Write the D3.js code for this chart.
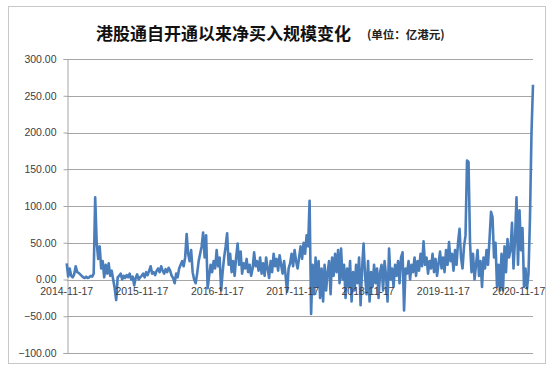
<!DOCTYPE html>
<html>
<head>
<meta charset="utf-8">
<script src="https://cdn.jsdelivr.net/npm/d3@7"></script>
<style>
  body { margin: 0; background: #fff; }
  text { font-family: "Liberation Sans", Arial, sans-serif; }
  .title { font-family: "Noto Sans CJK SC", sans-serif; }
</style>
</head>
<body>
<script>
// chart text
const titleMain = "港股通自开通以来净买入规模变化";
const titleUnit = "(单位：亿港元)";

// first and last trading day shown
const startDay = "2014-11-17";
const endDay = "2021-01-25";

// y axis ticks (亿港元)
const yTicks = [-100, -50, 0, 50, 100, 150, 200, 250, 300];

// x axis labels, one a year
const xLabels = ["2014-11-17", "2015-11-17", "2016-11-17", "2017-11-17",
                 "2018-11-17", "2019-11-17", "2020-11-17"];

// net buy, roughly one reading per week
const netBuy = [
  22, 4, 15, 5, 3, 7, 18, 10, 9, 7,
  5, 3, 2, 4, 2, 3, 5, 4, 8, 112,
  50, 28, 45, 15, 25, 3, 20, 8, 22, 5,
  12, 0, -12, -28, 3, 5, 8, 0, 5, 2,
  6, 3, 8, 0, 4, -8, 2, 7, 0, 3,
  5, 8, 3, 10, 6, 12, 18, 8, 10, 6,
  12, 15, 10, 18, 12, 8, 14, 10, 16, 12,
  5, 2, -5, 8, 3, 15, 20, 25, 18, 30,
  62, 35, 25, 40, 10, 0, -5, 8, 25, 35,
  45, 64, 30, 60, -12, 5, 20, 10, 25, 15,
  40, 18, 30, -15, 10, 30, 45, 63, 20, 35,
  10, 25, 5, 30, 49, 20, 38, 8, 22, 15,
  28, 10, 20, 5, 15, 37, 18, 25, 12, 30,
  8, 22, 5, 30, 15, 2, 25, 10, 35, 18,
  28, 12, 33, 20, 8, 25, 5, -17, 15, 22,
  35, 18, 40, 25, 15, 30, 45, 28, 50, 35,
  60, 45, 107, -47, 20, -20, 30, -10, 25, -25,
  15, -30, 20, -15, 10, 25, -20, 30, 5, 35,
  10, 40, -5, 42, 0, 20, -25, 15, -10, 25,
  -30, 10, -15, 20, -5, 30, -35, 15, 49, 5,
  -20, 25, -30, 10, -10, 20, -5, 15, -25, 10,
  20, -15, 25, 5, -30, 42, 0, 15, -10, 20,
  5, 25, -5, 30, 37, -42, 15, 8, 25, 0,
  20, 10, 30, 5, 25, 12, 35, 18, 52, 20,
  30, 8, 25, 15, 35, 10, 28, 5, 22, 38,
  15, 30, 10, 40, 20, 51, 25, 35, 12, 40,
  20, 50, 69, 30, 15, 45, 60, 162, 160, 50,
  10, 35, 0, 20, 40, 5, 25, -10, 30, 15,
  40, 20, 55, 92, 85, 30, 50, -10, 20, -15,
  35, -15, 45, 10, 55, 30, 40, 77, 15, 55,
  112, 20, 94, 40, 70, -10, 15, -12, 8, 85,
  200, 265
];

const width = 554;
const height = 377;
const margin = { left: 66.7, right: 21, top: 59, bottom: 24 };

const parse = d3.timeParse("%Y-%m-%d");
const t0 = parse(startDay);
const t1 = parse(endDay);

const svg = d3.select("body").append("svg")
    .attr("width", width)
    .attr("height", height);

// outer chart frame
svg.append("rect")
    .attr("x", 8.5).attr("y", 6.5)
    .attr("width", 537).attr("height", 357)
    .attr("fill", "#fff")
    .attr("stroke", "#c8c8c8");

const x = d3.scaleTime()
    .domain([t0, t1])
    .range([margin.left, width - margin.right]);

const y = d3.scaleLinear()
    .domain([-100, 300])
    .range([height - margin.bottom, margin.top]);

// readings are evenly spaced between the first and last day
const step = d3.scaleLinear().domain([0, netBuy.length - 1]).range([+t0, +t1]);
const points = netBuy.map((v, i) => ({ date: new Date(step(i)), value: v }));

// gridlines
svg.append("g")
    .selectAll("line")
    .data(yTicks)
    .join("line")
    .attr("x1", margin.left)
    .attr("x2", width - margin.right)
    .attr("y1", d => Math.round(y(d)) + 0.5)
    .attr("y2", d => Math.round(y(d)) + 0.5)
    .attr("stroke", "#a6a6a6")
    .attr("stroke-width", 1);

// y axis
const yAxis = svg.append("g")
    .attr("transform", `translate(${Math.round(margin.left) + 0.5},0)`)
    .call(d3.axisLeft(y).tickValues(yTicks).tickSize(4).tickPadding(7)
        .tickFormat(d3.format(".2f")));
yAxis.select(".domain").attr("stroke", "#a6a6a6");
yAxis.selectAll(".tick line").attr("stroke", "#a6a6a6");
yAxis.selectAll("text")
    .attr("font-size", 10.5)
    .attr("fill", "#404040")
    .style("font-family", "'Liberation Sans', Arial, sans-serif");

// line
const line = d3.line()
    .x(d => x(d.date))
    .y(d => y(d.value));

svg.append("path")
    .datum(points)
    .attr("d", line)
    .attr("fill", "none")
    .attr("stroke", "#4a7ebb")
    .attr("stroke-width", 2.6)
    .attr("stroke-linejoin", "round");

// x labels sit just under the zero line
svg.append("g")
    .selectAll("text")
    .data(xLabels)
    .join("text")
    .attr("x", d => x(parse(d)))
    .attr("y", y(0) + 15)
    .attr("text-anchor", "middle")
    .attr("font-size", 10.5)
    .attr("fill", "#404040")
    .text(d => d);

// title
svg.append("text")
    .attr("class", "title")
    .attr("x", 96)
    .attr("y", 40)
    .attr("font-size", 17)
    .attr("font-weight", "bold")
    .attr("fill", "#111")
    .text(titleMain);

svg.append("text")
    .attr("class", "title")
    .attr("x", 367)
    .attr("y", 39)
    .attr("font-size", 11.5)
    .attr("font-weight", "bold")
    .attr("fill", "#222")
    .text(titleUnit);
</script>
</body>
</html>
